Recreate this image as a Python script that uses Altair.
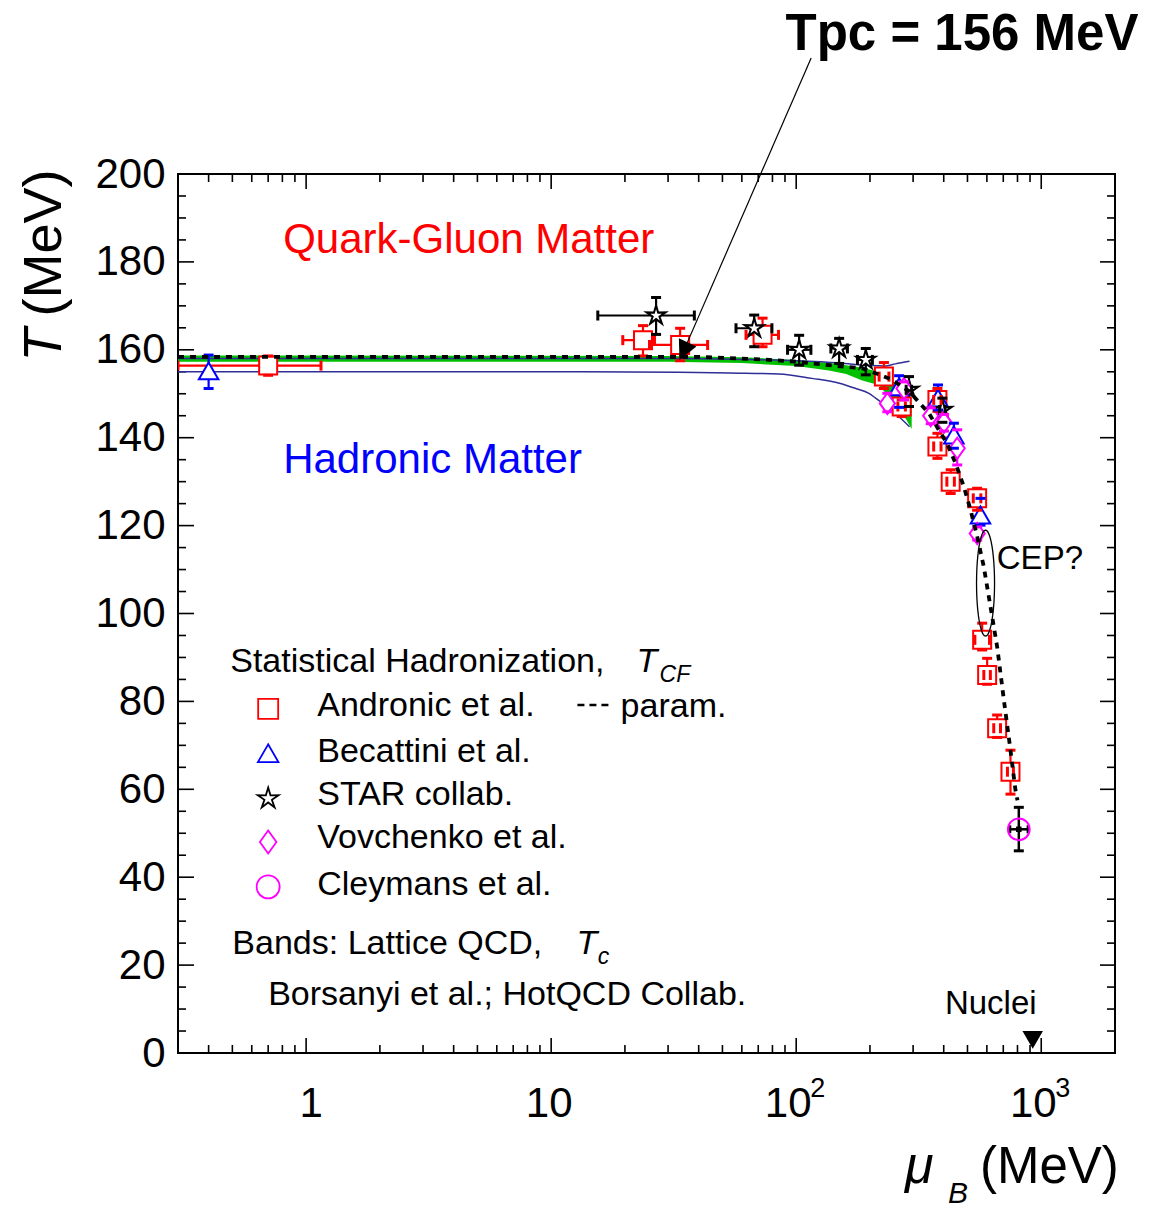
import math
import altair as alt
import pandas as pd

FONT = "Liberation Sans"
W, H = 937, 879
RED, BLUE, MAG, BLACK = "#ff0000", "#0000ff", "#ff00ff", "#000000"
GREEN, NAVY = "#00c000", "#2e2e96"

# ---------------- data ----------------
# Andronic et al. (red open squares)
and_mu    = [0.70, 23.7, 33.6, 72.9, 228, 269.5, 377, 377, 427, 547.5, 574, 601.5, 660.7, 749]
and_T     = [156.4, 162.2, 161.1, 163.4, 153.9, 147.1, 148.6, 138.0, 130.0, 126.2, 94.0, 86.0, 73.9, 64.0]
and_mu_lo = [0.3, 19.6, 25.2, 62.4, 218, 260, 364, 364, 412, 528, 536, 583, 640, 728]
and_mu_hi = [1.15, 26.4, 43.5, 84.7, 239, 279, 390, 390, 442, 567, 615, 620, 682, 770]
and_T_lo  = [154.2, 158.6, 157.5, 160.7, 151.2, 144.8, 146.0, 135.3, 127.3, 123.5, 91.7, 83.9, 71.8, 58.9]
and_T_hi  = [158.6, 165.5, 164.9, 167.2, 157.1, 148.6, 151.2, 141.0, 132.7, 128.5, 97.8, 89.8, 76.9, 68.9]

# Becattini et al. (blue open triangles)
bec_mu   = [0.40, 263, 379, 440, 565]
bec_T    = [155.2, 151.6, 149.0, 140.6, 122.4]
bec_T_lo = [151.2, 146.9, 146.3, 137.6, 120.1]
bec_T_hi = [158.8, 154.1, 152.0, 143.3, 126.2]

# STAR collab. (black open stars)
star_mu    = [26.8, 67.4, 102.8, 149.7, 192.3, 288.6, 395]
star_T     = [167.8, 164.9, 160.0, 160.3, 157.7, 150.9, 146.3]
star_mu_lo = [15.5, 56.8, 92.2, 138.5, 177.8, 281, 385]
star_mu_hi = [38.4, 79.6, 114.8, 161.8, 204.6, 296, 405]
star_T_lo  = [163.5, 160.7, 156.5, 156.9, 154.3, 147.1, 143.5]
star_T_hi  = [171.9, 167.9, 163.3, 162.6, 160.3, 153.9, 149.0]

# Vovchenko et al. (magenta open diamonds)
vov_mu   = [235.5, 275.4, 354, 401, 454, 548]
vov_T    = [147.8, 151.2, 145.0, 143.5, 137.6, 118.2]
vov_T_lo = [145.9, 148.6, 143.2, 141.5, 133.8, 116.7]
vov_T_hi = [150.1, 152.7, 146.8, 145.3, 141.8, 119.7]

# Cleymans et al. (magenta open circle, black error bars)
cle_mu, cle_T = [810], [50.9]
cle_mu_lo, cle_mu_hi = [744], [884]
cle_T_lo, cle_T_hi = [46.0], [55.9]

# parametrisation (black dashed)
par_mu = [0.3, 40, 73, 100, 136, 186, 220, 246, 290, 317, 348, 389, 413, 447, 483, 515, 548,
          583, 621, 661, 704, 749, 785, 800]
par_T = [158.4, 158.4, 157.8, 157.3, 156.5, 155.8, 154.3, 153.2, 150.5, 148.0, 145.6, 141.0, 138.7,
         134.2, 128.9, 123.5, 117.5, 110.6, 101.5, 92.4, 80.3, 68.9, 59.8, 57.5]

# lattice band (Borsanyi et al., green)
bor_mu = [0.3, 30, 60, 100, 136, 160, 186, 217, 254, 280, 296]
bor_hi = [158.7, 158.6, 158.3, 157.7, 157.0, 156.5, 155.9, 155.0, 152.4, 150.5, 149.0]
bor_lo = [157.3, 157.3, 157.0, 156.3, 155.3, 154.5, 153.0, 152.0, 147.6, 144.3, 142.0]

# lattice band (HotQCD, navy outline)
hot_mu    = [0.3, 13, 33, 53, 85, 116, 150, 175, 198, 211, 254, 290]
hot_lo    = [155.0, 155.0, 154.9, 154.7, 154.5, 153.5, 152.4, 151.2, 150.1, 149.0, 145.5, 142.5]
hot_hi_mu = [0.3, 30, 60, 100, 150, 200, 230, 254, 290]
hot_hi    = [158.0, 158.0, 157.8, 157.5, 157.0, 156.4, 156.3, 156.8, 157.4]

# axis ticks and labels
x_major = [1, 10, 100, 1000]
x_minor = [m * 10.0 ** e for e in range(-1, 4) for m in range(2, 10) if 0.3 < m * 10.0 ** e < 2000]
y_major = list(range(0, 201, 20))
y_minor = [v for v in range(5, 200, 5) if v % 20]
x_label_base = ["1", "10", "10", "10"]
x_label_sup = ["", "", "2", "3"]

# legend rows
leg_labels = ["Andronic et al.", "Becattini et al.", "STAR collab.", "Vovchenko et al.", "Cleymans et al."]
leg_label_T = [79.0, 68.6, 58.7, 48.9, 38.2]
leg_sym_T = [78.3, 68.2, 57.9, 48.0, 37.8]
leg_sym_mu = 0.70
leg_label_mu = 1.11

# ---------------- shapes ----------------
STAR_PATH = ("M0,-1L0.21,-0.29L0.951,-0.309L0.34,0.11L0.588,0.809L0,0.36L-0.588,0.809"
             "L-0.34,0.11L-0.951,-0.309L-0.21,-0.29Z")
DIAMOND_PATH = "M0,-1L0.72,0L0,1L-0.72,0Z"
ARROW_PATH = "M0,-1L1,1L-1,1Z"
ELLIPSE_PATH = "M" + "L".join(
    f"{0.17 * math.sin(2 * math.pi * k / 48):.4f},{-math.cos(2 * math.pi * k / 48):.4f}" for k in range(48)
) + "Z"

xs = alt.Scale(type="log", domain=[0.3, 2000], nice=False)
ys = alt.Scale(domain=[0, 200], nice=False, zero=False)

axis_y = alt.Axis(values=y_major, labelFont=FONT, labelFontSize=42, labelColor=BLACK, labelPadding=13,
                  ticks=False, domain=False, grid=False, title=None, labelOverlap=False, labelFlush=False,
                  labelBound=False)


def ex(f):
    return alt.X(f"{f}:Q", scale=xs, axis=None)


def ey(f):
    return alt.Y(f"{f}:Q", scale=ys, axis=axis_y)


def df1(**kw):
    return pd.DataFrame(kw)


err_layers, mark_layers, cap_layers = [], [], []


def add_series(mu, T, T_lo, T_hi, color, shape, size, mu_lo=None, mu_hi=None, fill="white"):
    d = pd.DataFrame(dict(mu=mu, T=T, T_lo=T_lo, T_hi=T_hi))
    err_layers.append(alt.Chart(d).mark_rule(color=color, strokeWidth=2.2, clip=True)
                      .encode(x=ex("mu"), y=ey("T_lo"), y2="T_hi"))
    cap_layers.append(alt.Chart(d).transform_fold(["T_lo", "T_hi"], as_=["k", "v"])
                      .mark_tick(orient="horizontal", size=10, thickness=3, color=color, opacity=1, clip=True)
                      .encode(x=ex("mu"), y=ey("v")))
    if mu_lo is not None:
        d2 = pd.DataFrame(dict(mu=mu, T=T, mu_lo=mu_lo, mu_hi=mu_hi))
        err_layers.append(alt.Chart(d2).mark_rule(color=color, strokeWidth=2.2, clip=True)
                          .encode(x=ex("mu_lo"), x2="mu_hi", y=ey("T")))
        cap_layers.append(alt.Chart(d2).transform_fold(["mu_lo", "mu_hi"], as_=["k", "v"])
                          .mark_tick(orient="vertical", size=10, thickness=3, color=color, opacity=1, clip=True)
                          .encode(x=ex("v"), y=ey("T")))
    mark_layers.append(alt.Chart(pd.DataFrame(dict(mu=mu, T=T)))
                       .mark_point(shape=shape, size=size, filled=True, fill=fill, stroke=color,
                                   strokeWidth=2, opacity=1)
                       .encode(x=ex("mu"), y=ey("T")))


add_series(and_mu, and_T, and_T_lo, and_T_hi, RED, "square", 324, and_mu_lo, and_mu_hi)
add_series(bec_mu, bec_T, bec_T_lo, bec_T_hi, BLUE, "triangle-up", 380)
add_series(star_mu, star_T, star_T_lo, star_T_hi, BLACK, STAR_PATH, 400, star_mu_lo, star_mu_hi)
add_series(vov_mu, vov_T, vov_T_lo, vov_T_hi, MAG, DIAMOND_PATH, 441)

# ---------------- bands ----------------
band = alt.Chart(pd.DataFrame(dict(mu=bor_mu, lo=bor_lo, hi=bor_hi))).mark_area(
    color=GREEN, opacity=1, clip=True).encode(x=ex("mu"), y=ey("lo"), y2="hi")
hot_df = pd.concat([
    pd.DataFrame(dict(mu=hot_mu, T=hot_lo, edge="lo")),
    pd.DataFrame(dict(mu=hot_hi_mu, T=hot_hi, edge="hi")),
])
hot = alt.Chart(hot_df).mark_line(color=NAVY, strokeWidth=1.5, clip=True, interpolate="monotone").encode(
    x=ex("mu"), y=ey("T"), detail="edge:N")

param = alt.Chart(pd.DataFrame(dict(mu=par_mu, T=par_T))).mark_line(
    color=BLACK, strokeWidth=3.8, strokeDash=[6, 6], clip=True).encode(x=ex("mu"), y=ey("T"))

# Cleymans point: black error bars with open magenta circle
cle_df = pd.DataFrame(dict(mu=cle_mu, T=cle_T, mu_lo=cle_mu_lo, mu_hi=cle_mu_hi, T_lo=cle_T_lo, T_hi=cle_T_hi))
cle_layers = [
    alt.Chart(cle_df).mark_rule(color=BLACK, strokeWidth=2.5).encode(x=ex("mu"), y=ey("T_lo"), y2="T_hi"),
    alt.Chart(cle_df).mark_rule(color=BLACK, strokeWidth=2.5).encode(x=ex("mu_lo"), x2="mu_hi", y=ey("T")),
    alt.Chart(cle_df).transform_fold(["T_lo", "T_hi"], as_=["k", "v"]).mark_tick(
        orient="horizontal", size=10, thickness=3, color=BLACK, opacity=1).encode(x=ex("mu"), y=ey("v")),
    alt.Chart(cle_df).transform_fold(["mu_lo", "mu_hi"], as_=["k", "v"]).mark_tick(
        orient="vertical", size=8, thickness=3, color=BLACK, opacity=1).encode(x=ex("v"), y=ey("T")),
    alt.Chart(cle_df).mark_point(shape="square", size=30, filled=True, color=BLACK, opacity=1).encode(
        x=ex("mu"), y=ey("T")),
    alt.Chart(cle_df).mark_point(shape="circle", size=470, filled=False, color=MAG, strokeWidth=2,
                                 opacity=1).encode(x=ex("mu"), y=ey("T")),
]


# ---------------- annotations ----------------
def text_at(mu, T, s, size, color=BLACK, align="left", baseline="middle", style="normal", weight="normal"):
    return alt.Chart(df1(mu=[mu], T=[T], s=[s])).mark_text(
        font=FONT, fontSize=size, color=color, align=align, baseline=baseline,
        fontStyle=style, fontWeight=weight).encode(x=ex("mu"), y=ey("T"), text="s:N")


def text_px(x, y, s, size, angle=0, align="left", baseline="alphabetic", style="normal", weight="normal"):
    return alt.Chart(df1(a=[0])).mark_text(
        font=FONT, fontSize=size, color=BLACK, align=align, baseline=baseline, angle=angle,
        fontStyle=style, fontWeight=weight, text=s).encode(x=alt.value(x), y=alt.value(y))


ann = [
    text_at(0.806, 185.0, "Quark-Gluon Matter", 42, RED),
    text_at(0.806, 134.9, "Hadronic Matter", 42, BLUE),
    text_at(658.6, 112.5, "CEP?", 33),
    text_at(404.5, 11.1, "Nuclei", 33),
    alt.Chart(df1(mu=[923], T=[3.0])).mark_point(shape="triangle-down", size=420, filled=True,
                                                  color=BLACK, opacity=1).encode(x=ex("mu"), y=ey("T")),
    alt.Chart(df1(mu=[592.5], T=[106.9])).mark_point(shape=ELLIPSE_PATH, size=106 * 106, filled=False,
                                                      color=BLACK, strokeWidth=1.3, opacity=1).encode(
        x=ex("mu"), y=ey("T")),
    # arrow from the title
    alt.Chart(df1(mu=[115.1], T=[226.4], mu2=[34.7], T2=[159.7])).mark_rule(color=BLACK, strokeWidth=1.2).encode(
        x=ex("mu"), y=ey("T"), x2="mu2", y2="T2"),
    alt.Chart(df1(mu=[34.7], T=[159.7])).mark_point(shape=ARROW_PATH, size=376, angle=205, filled=True,
                                                     color=BLACK, opacity=1).encode(x=ex("mu"), y=ey("T")),
    text_px(784, -124, "Tpc = 156 MeV", 51, align="center", weight="bold"),
    # axis titles
    text_px(-133, 171, "T", 54, angle=270, align="center", baseline="middle", style="italic"),
    text_px(-133, 69, "(MeV)", 54, angle=270, align="center", baseline="middle"),
    text_px(727, 1009, "μ", 52, style="italic"),
    text_px(770, 1029, "B", 30, style="italic"),
    text_px(802, 1009, "(MeV)", 51),
]

# x tick labels (with superscript exponents)
xlab = []
for v, base, sup in zip(x_major, x_label_base, x_label_sup):
    dx = 5 if v == 1 else (-2 if not sup else -8)
    xlab.append(alt.Chart(df1(mu=[v], s=[base])).mark_text(
        font=FONT, fontSize=42, color=BLACK, align="center", baseline="alphabetic", dx=dx).encode(
        x=ex("mu"), y=alt.value(H + 64), text="s:N"))
    if sup:
        xlab.append(alt.Chart(df1(mu=[v], s=[sup])).mark_text(
            font=FONT, fontSize=27, color=BLACK, align="left", baseline="alphabetic", dx=14).encode(
            x=ex("mu"), y=alt.value(H + 44), text="s:N"))

# ---------------- legend ----------------
leg = [
    text_at(0.49, 88.9, "Statistical Hadronization,", 34),
    text_at(22.3, 88.9, "T", 34, style="italic"),
    text_at(27.7, 85.9, "CF", 23, style="italic"),
    alt.Chart(df1(mu=[leg_label_mu] * 5, T=leg_label_T, s=leg_labels)).mark_text(
        font=FONT, fontSize=34, color=BLACK, align="left", baseline="middle").encode(
        x=ex("mu"), y=ey("T"), text="s:N"),
    alt.Chart(df1(mu=[12.8], T=[79.2], mu2=[17.3])).mark_rule(color=BLACK, strokeWidth=2.5,
                                                               strokeDash=[7, 5]).encode(
        x=ex("mu"), x2="mu2", y=ey("T")),
    text_at(19.2, 78.8, "param.", 34),
    text_at(0.50, 24.8, "Bands: Lattice QCD,", 34),
    text_at(12.7, 24.8, "T", 34, style="italic"),
    text_at(15.5, 21.9, "c", 23, style="italic"),
    text_at(0.70, 13.2, "Borsanyi et al.; HotQCD Collab.", 34),
]
leg_syms = [(RED, "square", 400), (BLUE, "triangle-up", 420), (BLACK, STAR_PATH, 480),
            (MAG, DIAMOND_PATH, 529), (MAG, "circle", 529)]
for (c, shp, sz), t in zip(leg_syms, leg_sym_T):
    leg.append(alt.Chart(df1(mu=[leg_sym_mu], T=[t])).mark_point(
        shape=shp, size=sz, filled=False, color=c, strokeWidth=1.8, opacity=1).encode(x=ex("mu"), y=ey("T")))

# ---------------- ticks ----------------
xmaj = pd.DataFrame(dict(mu=x_major))
xmin = pd.DataFrame(dict(mu=x_minor))
ymaj = pd.DataFrame(dict(T=y_major))
ymin = pd.DataFrame(dict(T=y_minor))
TK = dict(color=BLACK, strokeWidth=1.6)
ticks = [
    alt.Chart(xmaj).mark_rule(**TK).encode(x=ex("mu"), y=alt.value(H), y2=alt.value(H - 15)),
    alt.Chart(xmaj).mark_rule(**TK).encode(x=ex("mu"), y=alt.value(0), y2=alt.value(15)),
    alt.Chart(xmin).mark_rule(**TK).encode(x=ex("mu"), y=alt.value(H), y2=alt.value(H - 8)),
    alt.Chart(xmin).mark_rule(**TK).encode(x=ex("mu"), y=alt.value(0), y2=alt.value(8)),
    alt.Chart(ymaj).mark_rule(**TK).encode(y=ey("T"), x=alt.value(0), x2=alt.value(16)),
    alt.Chart(ymaj).mark_rule(**TK).encode(y=ey("T"), x=alt.value(W), x2=alt.value(W - 15)),
    alt.Chart(ymin).mark_rule(**TK).encode(y=ey("T"), x=alt.value(0), x2=alt.value(8)),
    alt.Chart(ymin).mark_rule(**TK).encode(y=ey("T"), x=alt.value(W), x2=alt.value(W - 8)),
]

chart = alt.layer(
    *ticks, band, hot, *err_layers, *mark_layers, *cap_layers, param, *cle_layers, *ann, *xlab, *leg
).properties(
    width=W, height=H,
    padding={"left": 178, "top": 174, "right": 1176 - 178 - W, "bottom": 1211 - 174 - H},
    autosize=alt.AutoSizeParams(type="none"),
).configure_view(stroke=BLACK, strokeWidth=2)

chart.save("out.html", embed_options={"renderer": "svg", "actions": False})
